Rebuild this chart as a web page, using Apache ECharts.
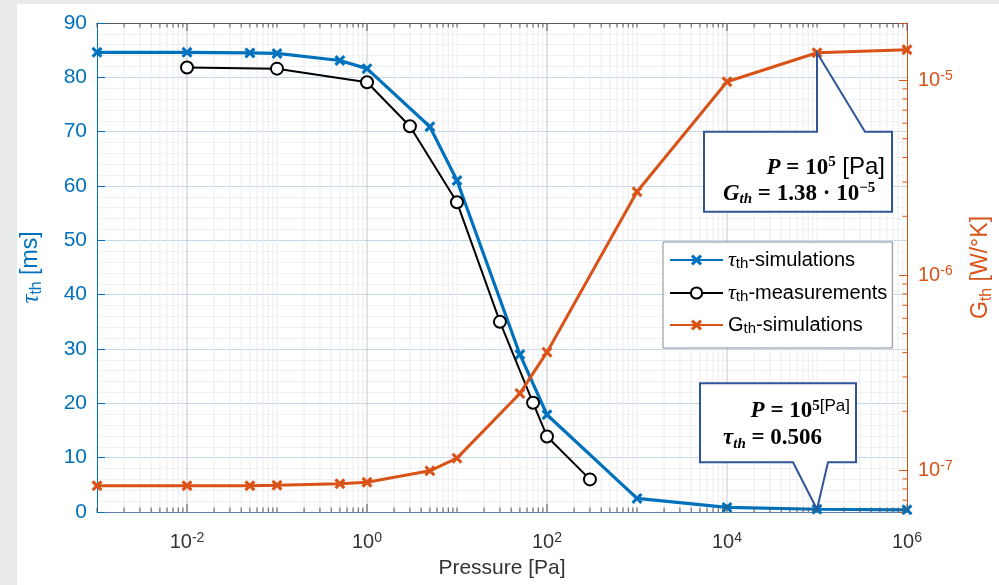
<!DOCTYPE html>
<html>
<head>
<meta charset="utf-8">
<script src="https://cdn.jsdelivr.net/npm/echarts@6/dist/echarts.min.js"></script>
<style>
  html, body { margin: 0; padding: 0; background: #e9ebeb; }
  #chart {
    width: 982px;
    height: 581px;
    border-left: 17px solid #e9ebeb;
    border-top: 4px solid #e9ebeb;
    background: #fff;
  }
</style>
</head>
<body>
<div id="chart"></div>
<script>
// simulated points (tau and G share the same pressures)
const pressureSim = [1e-3, 1e-2, 0.05, 0.1, 0.5, 1, 5, 10, 50, 100, 1e3, 1e4, 1e5, 1e6];
const tauSim = [84.6, 84.6, 84.5, 84.4, 83.1, 81.6, 70.9, 61.0, 29.0, 17.9, 2.5, 0.85, 0.506, 0.4];
const gSim = [8.3e-8, 8.3e-8, 8.3e-8, 8.35e-8, 8.5e-8, 8.65e-8, 9.9e-8, 1.15e-7, 2.47e-7, 4.02e-7, 2.67e-6, 9.8e-6, 1.38e-5, 1.43e-5];

// measured points
const pressureMeas = [0.01, 0.1, 1, 3, 10, 30, 70, 100, 300];
const tauMeas = [81.8, 81.6, 79.1, 71.0, 57.0, 35.0, 20.1, 13.9, 6.0];

const seriesNames = ["tauSim", "tauMeas", "gSim"];
const legendLabels = {
  tauSim: "{t|τ}{sub|th}{n|-simulations}",
  tauMeas: "{t|τ}{sub|th}{n|-measurements}",
  gSim: "{n|G}{sub|th}{n|-simulations}",
};

const xMin = 1e-3, xMax = 1e6;
const gMin = 6.09e-8, gMax = 1.96e-5;

const BLUE = "#0072BD";
const ORANGE = "#D95319";
const BOX = "#2f5597";

const chart = echarts.init(document.getElementById("chart"));

function pairs(xs, ys) {
  return xs.map((x, i) => [x, ys[i]]);
}

// labels only on exact powers of ten (x axis: even exponents only)
function powLabel(v, evenOnly) {
  const lg = Math.log10(v);
  const e = Math.round(lg);
  if (Math.abs(lg - e) > 1e-6) return "";
  if (evenOnly && e % 2 !== 0) return "";
  return "{b|10}{s|" + e + "}";
}

const crossPath = "path://M2,0L5,3L8,0L10,2L7,5L10,8L8,10L5,7L2,10L0,8L3,5L0,2Z";

chart.setOption({
  animation: false,
  grid: { left: 80, top: 19, right: 92, bottom: 73, containLabel: false, outerBoundsMode: "none" },
  legend: {
    orient: "vertical",
    left: 646,
    top: 238,
    padding: [7, 5, 12, 6],
    itemWidth: 53,
    itemHeight: 14,
    itemGap: 11,
    backgroundColor: "#fff",
    borderColor: "#8a8a8a",
    borderWidth: 1,
    data: seriesNames,
    formatter: (name) => legendLabels[name],
    textStyle: {
      color: "#000",
      fontSize: 20,
      rich: {
        t: { fontFamily: "Liberation Serif", fontStyle: "italic", fontSize: 22, lineHeight: 22, color: "#000" },
        n: { fontFamily: "Liberation Sans", fontSize: 20, lineHeight: 22, color: "#000" },
        sub: { fontFamily: "Liberation Sans", fontSize: 15, lineHeight: 12, verticalAlign: "bottom", color: "#000" },
      },
    },
  },
  xAxis: [
    {
      type: "log",
      logBase: 10,
      min: xMin,
      max: xMax,
      interval: 1,
      position: "bottom",
      name: "Pressure [Pa]",
      nameLocation: "middle",
      nameGap: 46,
      nameTextStyle: { fontFamily: "Liberation Sans", fontSize: 21, color: "#333" },
      axisLine: { lineStyle: { color: "#5b82ab", width: 1 } },
      axisTick: { show: false },
      axisLabel: {
        margin: 19,
        formatter: (v) => powLabel(v, true),
        rich: {
          b: { fontFamily: "Liberation Sans", fontSize: 20, lineHeight: 22, color: "#333" },
          s: { fontFamily: "Liberation Sans", fontSize: 14, lineHeight: 14, verticalAlign: "top", color: "#333" },
        },
      },
      splitLine: { show: false },
    },
    {
      type: "log",
      logBase: 10,
      min: xMin,
      max: xMax,
      interval: 1,
      position: "top",
      axisLine: { lineStyle: { color: "#555", width: 1 } },
      axisTick: { show: false },
      axisLabel: { show: false },
      splitLine: { show: false },
    },
  ],
  yAxis: [
    {
      type: "value",
      min: 0,
      max: 90,
      interval: 10,
      position: "left",
      name: "{t|τ}{sub|th}{n| [ms]}",
      nameLocation: "middle",
      nameGap: 52,
      nameTextStyle: {
        rich: {
          t: { fontFamily: "Liberation Serif", fontStyle: "italic", fontSize: 25, lineHeight: 28, color: BLUE },
          n: { fontFamily: "Liberation Sans", fontSize: 23, lineHeight: 28, color: BLUE },
          sub: { fontFamily: "Liberation Sans", fontSize: 16, lineHeight: 14, verticalAlign: "bottom", color: BLUE },
        },
      },
      axisLine: { show: true, lineStyle: { color: BLUE, width: 1 } },
      axisTick: { show: true, inside: true, length: 8, lineStyle: { color: BLUE } },
      axisLabel: { margin: 10, fontFamily: "Liberation Sans", fontSize: 21, color: BLUE },
      splitLine: { show: true, lineStyle: { color: "#c2d7ea", width: 1 } },
      minorTick: { show: false, splitNumber: 5 },
      minorSplitLine: { show: true, lineStyle: { color: "#eef2f6", width: 1 } },
    },
    {
      type: "log",
      logBase: 10,
      min: gMin,
      max: gMax,
      position: "right",
      name: "{n|G}{sub|th}{n| [W/°K]}",
      nameLocation: "middle",
      nameGap: 60,
      nameRotate: 90,
      nameTextStyle: {
        rich: {
          n: { fontFamily: "Liberation Sans", fontSize: 23, lineHeight: 28, color: ORANGE },
          sub: { fontFamily: "Liberation Sans", fontSize: 16, lineHeight: 14, verticalAlign: "bottom", color: ORANGE },
        },
      },
      axisLine: { show: true, lineStyle: { color: ORANGE, width: 1 } },
      axisTick: { show: true, inside: true, length: 8, lineStyle: { color: ORANGE } },
      axisLabel: {
        margin: 11,
        formatter: (v) => powLabel(v, false),
        rich: {
          b: { fontFamily: "Liberation Sans", fontSize: 20, lineHeight: 22, color: ORANGE },
          s: { fontFamily: "Liberation Sans", fontSize: 14, lineHeight: 14, verticalAlign: "top", color: ORANGE },
        },
      },
      splitLine: { show: false },
    },
  ],
  series: [
    {
      name: "tauSim",
      type: "line",
      xAxisIndex: 0,
      yAxisIndex: 0,
      data: pairs(pressureSim, tauSim),
      symbol: crossPath,
      symbolSize: 11,
      color: BLUE,
      lineStyle: { color: BLUE, width: 3.2 },
      itemStyle: { color: BLUE },
      z: 3,
    },
    {
      name: "tauMeas",
      type: "line",
      xAxisIndex: 0,
      yAxisIndex: 0,
      data: pairs(pressureMeas, tauMeas),
      symbol: "emptyCircle",
      symbolSize: 12,
      color: "#000",
      lineStyle: { color: "#000", width: 2 },
      itemStyle: { color: "#000", borderWidth: 2 },
      z: 4,
    },
    {
      name: "gSim",
      type: "line",
      xAxisIndex: 0,
      yAxisIndex: 1,
      data: pairs(pressureSim, gSim),
      symbol: crossPath,
      symbolSize: 11,
      color: ORANGE,
      lineStyle: { color: ORANGE, width: 3 },
      itemStyle: { color: ORANGE },
      z: 5,
    },
  ],
});

// log grid / ticks (1..9 per decade) and the two callouts, placed via the axes
function decadeValues(lo, hi) {
  const out = [];
  for (let n = lo; n <= hi; n++) {
    for (let k = 1; k <= 9; k++) out.push({ v: k * Math.pow(10, n), k: k, n: n });
  }
  return out;
}

const px = (v) => chart.convertToPixel({ xAxisIndex: 0 }, v);
const pyL = (v) => chart.convertToPixel({ yAxisIndex: 0 }, v);
const pyR = (v) => chart.convertToPixel({ yAxisIndex: 1 }, v);

const gTop = pyL(90), gBottom = pyL(0), gRight = px(xMax);
const graphics = [];

function seg(x1, y1, x2, y2, color, z) {
  return {
    type: "line", silent: true, z: z,
    shape: { x1: x1, y1: y1, x2: x2, y2: y2 },
    style: { stroke: color, lineWidth: 1 },
  };
}

decadeValues(-3, 6).forEach((d) => {
  if (d.v < xMin * 0.9999 || d.v > xMax * 1.0001) return;
  const major = d.k === 1 && d.n % 2 === 0;
  const edge = d.v <= xMin * 1.0001 || d.v >= xMax * 0.9999;
  const x = px(d.v);
  const len = major ? 8 : 4.5;
  if (!edge) graphics.push(seg(x, gTop, x, gBottom, major ? "#c6c6c6" : "#ececec", major ? 1 : 0));
  graphics.push(seg(x, gBottom, x, gBottom - len, "#555", 6));
  graphics.push(seg(x, gTop, x, gTop + len, "#555", 6));
});

decadeValues(-8, -5).forEach((d) => {
  if (d.k === 1 || d.v <= gMin || d.v >= gMax) return;
  const y = pyR(d.v);
  graphics.push(seg(gRight, y, gRight - 4.5, y, ORANGE, 6));
});

const mathRich = {
  it: { fontFamily: "Liberation Serif", fontWeight: "bold", fontStyle: "italic", fontSize: 23, lineHeight: 26, color: "#111" },
  b: { fontFamily: "Liberation Serif", fontWeight: "bold", fontSize: 23, lineHeight: 26, color: "#111" },
  sup: { fontFamily: "Liberation Serif", fontWeight: "bold", fontSize: 15, lineHeight: 14, verticalAlign: "top", color: "#111" },
  sub: { fontFamily: "Liberation Serif", fontWeight: "bold", fontStyle: "italic", fontSize: 15, lineHeight: 13, verticalAlign: "bottom", color: "#111" },
  pa: { fontFamily: "Liberation Sans", fontSize: 24, lineHeight: 26, color: "#3a3a3a" },
  pas: { fontFamily: "Liberation Sans", fontSize: 17, lineHeight: 17, verticalAlign: "top", color: "#3a3a3a" },
};

function mathText(str, x, y, align) {
  return {
    type: "text", z: 101, silent: true,
    style: {
      text: str, x: x, y: y,
      align: align, textAlign: align,
      verticalAlign: "middle", textVerticalAlign: "middle",
      rich: mathRich,
    },
  };
}

// callout for G_th at 1e5 Pa (box below the point)
const tipG = chart.convertToPixel({ xAxisIndex: 0, yAxisIndex: 1 }, [pressureSim[12], gSim[12]]);
{
  const L = tipG[0] - 113, R = tipG[0] + 75, T = tipG[1] + 79, B = tipG[1] + 159;
  graphics.push({
    type: "polygon", z: 100, silent: true,
    shape: { points: [[L, T], [tipG[0], T], tipG, [tipG[0] + 48, T], [R, T], [R, B], [L, B]] },
    style: { fill: "#fff", stroke: BOX, lineWidth: 2 },
  });
  graphics.push(mathText("{it|P}{b| = 10}{sup|5}{pa| [Pa]}", tipG[0] + 68, tipG[1] + 115, "right"));
  graphics.push(mathText("{it|G}{sub|th}{b| = 1.38 · 10}{sup|−5}", tipG[0] - 94, tipG[1] + 141, "left"));
}

// callout for tau_th at 1e5 Pa (box above the point)
const tipT = chart.convertToPixel({ xAxisIndex: 0, yAxisIndex: 0 }, [pressureSim[12], tauSim[12]]);
{
  const L = tipT[0] - 117, R = tipT[0] + 39, T = tipT[1] - 126, B = tipT[1] - 47;
  graphics.push({
    type: "polygon", z: 100, silent: true,
    shape: { points: [[L, T], [R, T], [R, B], [tipT[0] + 11, B], tipT, [tipT[0] - 24, B], [L, B]] },
    style: { fill: "#fff", stroke: BOX, lineWidth: 2 },
  });
  graphics.push(mathText("{it|P}{b| = 10}{sup|5}{pas|[Pa]}", tipT[0] + 33, tipT[1] - 98, "right"));
  graphics.push(mathText("{it|τ}{sub|th}{b| = 0.506}", tipT[0] - 94, tipT[1] - 71, "left"));
}

chart.setOption({ graphic: { elements: graphics } });
</script>
</body>
</html>
